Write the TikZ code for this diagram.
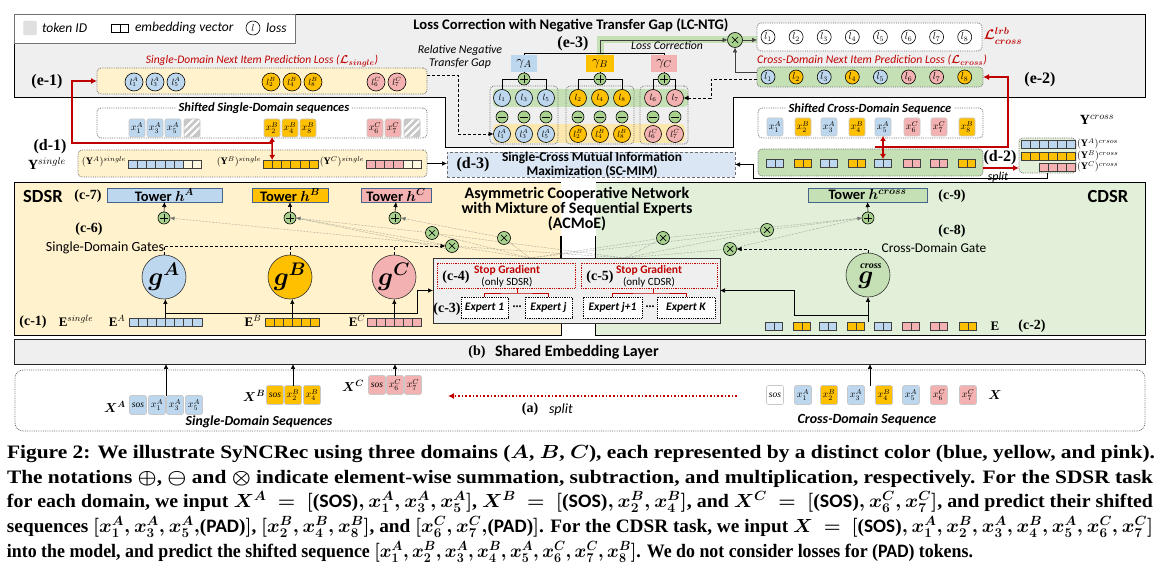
\RequirePackage{fix-cm}
\documentclass[tikz,border=0pt]{standalone}
\usepackage{amsmath,amssymb}
\usepackage{fontspec}
\setmainfont{Liberation Serif}
\setsansfont{Carlito}
\usepackage{graphicx}
\usetikzlibrary{arrows.meta,calc}
\definecolor{cA}{RGB}{189,215,238}
\definecolor{cB}{RGB}{255,192,0}
\definecolor{cC}{RGB}{244,177,177}
\definecolor{cG}{RGB}{197,224,180}
\definecolor{cGd}{RGB}{169,209,142}
\definecolor{cY}{RGB}{255,242,204}
\definecolor{cYb}{RGB}{252,232,172}
\definecolor{cYp}{RGB}{255,248,225}
\definecolor{cGl}{RGB}{226,240,217}
\definecolor{lcg}{RGB}{239,239,239}
\definecolor{dblue}{RGB}{218,230,243}
\definecolor{myred}{RGB}{192,0,0}
\definecolor{twb}{RGB}{68,100,140}
\definecolor{dotg}{RGB}{110,110,110}
\definecolor{tokb}{RGB}{200,200,200}
\newcommand{\fs}[1]{\fontsize{#1}{#1}\selectfont}
\newcommand{\capfont}{\rmfamily\bfseries}
\newcommand{\bm}[1]{{\boldmath #1}}
\newcommand{\embrow}[5]{\foreach \cc [count=\i from 0] in {#5} {\node[cell, fill=\cc, minimum width=#4pt, anchor=west] (#1\i) at ({#2+#4*\i},#3) {};}}
\newcommand{\embpair}[4]{\node[cell, fill=#4, minimum width=8.5pt, anchor=east] (#1l) at (#2,#3) {};\node[cell, fill=#4, minimum width=8.5pt, anchor=west] (#1r) at (#2,#3) {};}
\newcommand{\capline}[4]{\node[anchor=base west] (#1) at (7,#2) {\resizebox{#3pt}{\height}{{\capfont\fs{19}\boldmath #4}}};}
\tikzset{
 every node/.style={inner sep=0pt, outer sep=0pt},
 arr/.style={line width=0.6pt, -{Latex[length=5pt,width=4.5pt]}},
 sarr/.style={-{Latex[length=4.5pt,width=4pt]}},
 dsh/.style={densely dashed, line width=0.6pt, -{Latex[length=5pt,width=4.5pt]}},
 tang/.style={draw=black!55, densely dotted, line width=0.45pt},
 redarr/.style={myred, line width=1.6pt, -{Latex[length=6pt,width=6pt]}},
 reddbl/.style={myred, line width=1.6pt, {Latex[length=5pt,width=6pt]}-{Latex[length=5pt,width=6pt]}},
 dotbox/.style={draw=dotg, densely dotted, line width=0.8pt, rounded corners=4pt},
 cell/.style={draw=black!75, line width=0.5pt, minimum height=8pt},
 tok/.style={draw=tokb, line width=0.6pt, rounded corners=2pt, minimum width=16pt, minimum height=18pt, font=\fs{10}},
 tokA/.style={tok, fill=cA}, tokB/.style={tok, fill=cB}, tokC/.style={tok, fill=cC},
 hatch/.style={tok, fill=black!22, path picture={\foreach \s in {-7,0,7}{\draw[white, line width=2pt] ($(path picture bounding box.center)+(\s-10,10)$) -- ($(path picture bounding box.center)+(\s+10,-10)$);}}},
 lossS/.style={circle, draw=black, line width=0.6pt, minimum size=18pt, font=\fs{9}},
 lossX/.style={circle, draw=black, line width=0.6pt, minimum size=14pt, font=\fs{10}},
 opc/.style={circle, draw=black, line width=0.6pt, fill=cGd, minimum size=12pt},
 plusc/.style={opc, path picture={\draw[line width=0.7pt] ($(path picture bounding box.center)+(0,-3.6pt)$) -- ($(path picture bounding box.center)+(0,3.6pt)$) ($(path picture bounding box.center)+(-3.6pt,0)$) -- ($(path picture bounding box.center)+(3.6pt,0)$);}},
 minusc/.style={opc, path picture={\draw[line width=0.7pt] ($(path picture bounding box.center)+(-3.6pt,0)$) -- ($(path picture bounding box.center)+(3.6pt,0)$);}},
 timesc/.style={opc, minimum size=13pt, path picture={\draw[line width=0.7pt] ($(path picture bounding box.center)+(-3pt,-3pt)$) -- ($(path picture bounding box.center)+(3pt,3pt)$) ($(path picture bounding box.center)+(-3pt,3pt)$) -- ($(path picture bounding box.center)+(3pt,-3pt)$);}},
 lab/.style={font=\rmfamily\bfseries\fs{16}},
 clab/.style={font=\rmfamily\bfseries\fs{14}},
 tower/.style={draw=twb, line width=0.8pt, minimum height=14pt, font=\sffamily\bfseries\fs{14.5}},
 gate/.style={circle, draw=black!80, line width=0.6pt, minimum size=44pt, font=\fs{26}},
 capr/.style={text=myred, font=\sffamily\itshape\fs{11.7}},
 smit/.style={font=\sffamily\itshape\fs{11.7}},
 bit/.style={font=\sffamily\bfseries\itshape\fs{12.5}},
}
\begin{document}
\begin{tikzpicture}[x=1pt,y=-1pt]
\useasboundingbox (0,0) rectangle (1165,577);
\fill[white] (0,0) rectangle (1165,577);
%% ---------- backgrounds
\draw[fill=lcg, line width=0.8pt] (14,14) -- (1145,14) -- (1145,97) -- (733,97) -- (733,147) -- (445,147) -- (445,97) -- (14,97) -- cycle;
\node[draw=black, line width=0.8pt, fill=cY, minimum width=547pt, minimum height=153pt, anchor=north west] (sdsr) at (14,182) {};
\node[draw=black, line width=0.8pt, fill=cGl, minimum width=550pt, minimum height=153pt, anchor=north west] (cdsr) at (595,182) {};
\fill[white] (560.5,180) rectangle (595.5,236);
\node[draw=black!85, line width=0.8pt, fill=lcg, minimum width=1131pt, minimum height=25pt, anchor=north west] (shared) at (14,339) {};
\node[dotbox, rounded corners=8pt, minimum width=1130pt, minimum height=61pt, anchor=north west] (inbox) at (15,370) {};
%% ---------- legend
\node[draw=black!55, fill=white, line width=0.7pt, minimum width=281pt, minimum height=29pt, anchor=north west] (legend) at (14,14) {};
\node[draw=black!15, fill=black!12, rounded corners=2pt, minimum width=13pt, minimum height=14pt] (lgtok) at (30,28) {};
\node[anchor=west, font=\sffamily\itshape\fs{13.5}] (lgtokt) at (42,28) {token ID};
\node[cell, fill=white, draw=black, minimum width=8.5pt, anchor=east] (lgeml) at (120,28) {};
\node[cell, fill=white, draw=black, minimum width=8.5pt, anchor=west] (lgemr) at (120,28) {};
\node[anchor=west, font=\sffamily\itshape\fs{13.5}] (lgemt) at (135,28) {embedding vector};
\node[lossX, fill=white] (lgloss) at (253,28) {$l$};
\node[anchor=west, font=\sffamily\itshape\fs{13.5}] (lglosst) at (266,28) {loss};
%% ---------- LC-NTG
\node[font=\sffamily\bfseries\fs{14.6}] (lctitle) at (571,25) {Loss Correction with Negative Transfer Gap (LC-NTG)};
\node[lab] (e3) at (573,44) {(e-3)};
\node[align=center, font=\sffamily\itshape\fontsize{11.9}{12.5}\selectfont] (rntg) at (460,57) {Relative Negative\\Transfer Gap};
\draw[line width=7pt, cG] (600,55) -- (600,40) -- (757,40);
\node[fill=cA, minimum width=26pt, minimum height=17pt, font=\fs{14}] (gmA) at (524,63.5) {$\gamma_A$};
\node[fill=cB, minimum width=28pt, minimum height=17pt, font=\fs{14}] (gmB) at (600,63.5) {$\gamma_B$};
\node[fill=cC, minimum width=26pt, minimum height=17pt, font=\fs{14}] (gmC) at (664,63.5) {$\gamma_C$};
\draw[line width=0.7pt] (gmA.north) -- ++(0,-2) -| (gmC.north);
\node[smit] (lctxt) at (667,46) {Loss Correction};
\node[timesc, minimum size=15pt] (mx) at (735,40) {};
\draw[arr, black!75] ([yshift=2pt]gmB.north) |- (mx.west);
% lrb box
\node[dotbox, fill=white, minimum width=225pt, minimum height=28pt, anchor=north west] (lrb) at (757,23) {};
\foreach \i in {1,...,8} {\node[lossX, fill=white] (lr\i) at ({768+28.1*(\i-1)},37) {$l_{\i}$};}
\node[text=myred, font=\fs{14}] (lrblbl) at (1003,36) {\bm{$\mathcal{L}^{lrb}_{cross}$}};
\draw[arr, black!75] (mx.east) -- (mx -| lrb.west);
% cross losses
\node[capr] (clcap) at (872,60) {Cross-Domain Next Item Prediction Loss (\bm{$\mathcal{L}_{cross}$})};
\node[dotbox, fill=cG, minimum width=226pt, minimum height=20pt, anchor=north west] (clb) at (757,67) {};
\foreach \cc [count=\i] in {cA,cB,cA,cB,cA,cC,cC,cB} {\node[lossX, fill=\cc] (cl\i) at ({768+28.1*(\i-1)},77) {$l_{\i}$};}
\draw[arr, black!75] ([yshift=-5pt]clb.north west) -| (mx.south);
\node[lab] (e2) at (1040,80) {(e-2)};
% single losses
\node[capr, font=\sffamily\itshape\fs{11.5}] (slcap) at (262,61) {Single-Domain Next Item Prediction Loss (\bm{$\mathcal{L}_{single}$})};
\node[dotbox, fill=cY, minimum width=330pt, minimum height=26pt, anchor=north west] (slb) at (97,68) {};
\foreach \xx/\n in {134/1,155/3,176/5} {\node[lossS, fill=cA] (slA\n) at (\xx,82) {$l^A_{\n}$};}
\foreach \xx/\n in {271/2,292/4,313/8} {\node[lossS, fill=cB] (slB\n) at (\xx,82) {$l^B_{\n}$};}
\foreach \xx/\n in {376/6,397/7} {\node[lossS, fill=cC] (slC\n) at (\xx,82) {$l^C_{\n}$};}
\node[lab] (e1) at (47,82) {(e-1)};
% gap structure
\node[fill=cG, rounded corners=4pt, minimum width=195pt, minimum height=18pt, anchor=north west] (bandG) at (493,89) {};
\node[fill=cYb, rounded corners=4pt, minimum width=192pt, minimum height=19pt, anchor=north west] (bandY) at (493,124) {};
\node[dotbox, minimum width=68pt, minimum height=58pt, anchor=north west] (grA) at (490,86) {};
\node[dotbox, minimum width=68pt, minimum height=58pt, anchor=north west] (grB) at (566,86) {};
\node[dotbox, minimum width=48pt, minimum height=58pt, anchor=north west] (grC) at (640,86) {};
\foreach \xx/\n/\cc/\d in {502/1/cA/A,524/3/cA/A,546/5/cA/A,578/2/cB/B,600/4/cB/B,622/8/cB/B,653/6/cC/C,675/7/cC/C} {
  \node[lossS, minimum size=17pt, fill=\cc] (gt\d\n) at (\xx,98) {$l_{\n}$};
  \node[minusc] (gm\d\n) at (\xx,117) {};
  \node[lossS, minimum size=17pt, fill=\cc] (gb\d\n) at (\xx,134) {$l^{\d}_{\n}$};
}
\node[plusc] (pgA) at (524,79) {};
\node[plusc] (pgB) at (600,79) {};
\node[plusc] (pgC) at (664,79) {};
\draw[line width=0.7pt] (gtA1.north) |- (pgA.west) (pgA.east) -| (gtA5.north);
\draw[line width=0.7pt] (gtB2.north) |- (pgB.west) (pgB.east) -| (gtB8.north);
\draw[line width=0.7pt] (gtC6.north) |- (pgC.west) (pgC.east) -| (gtC7.north);
\draw[line width=0.7pt] (gmA.south) -- (pgA.north) (gmB.south) -- (pgB.north) (gmC.south) -- (pgC.north);
\draw[dsh] ([yshift=6pt]slb.east) -- ++(31,0) |- (gbA1.west);
\draw[dsh] ([yshift=-2pt]clb.west) -- ++(-46,0) |- (gtC7.east);
%% ---------- row d
\node[dotbox, fill=white, minimum width=330pt, minimum height=30pt, anchor=north west] (ssb) at (97,108) {};
\node[bit, fill=white, inner xsep=3pt, inner ysep=1pt] (ssbt) at (264,108) {Shifted Single-Domain sequences};
\foreach \xx/\n in {137/1,155/3,173/5} {\node[tokA] (sA\n) at (\xx,128) {$x^A_{\n}$};}
\node[hatch] (sPA) at (192,128) {};
\foreach \xx/\n in {272/2,290/4,308/8} {\node[tokB] (sB\n) at (\xx,128) {$x^B_{\n}$};}
\foreach \xx/\n in {375/6,393/7} {\node[tokC] (sC\n) at (\xx,128) {$x^C_{\n}$};}
\node[hatch] (sPC) at (412,128) {};
\node[lab] (d1) at (50,147) {(d-1)};
\node[font=\fs{14}] (ysl) at (47,164) {$\mathbf{Y}^{single}$};
\node[dotbox, fill=cY, minimum width=349pt, minimum height=27pt, anchor=north west] (ysb) at (78,150) {};
\node[font=\fs{10}] (yAs) at (104,162) {$(\mathbf{Y}^A)^{single}$};
\node[font=\fs{10}] (yBs) at (239,162) {$(\mathbf{Y}^B)^{single}$};
\node[font=\fs{10}] (yCs) at (342,162) {$(\mathbf{Y}^C)^{single}$};
\embrow{yA}{128}{164}{9.2}{cA,cA,cA,cA,cA,cA,cYp,cYp}
\embrow{yB}{263}{164}{9.2}{cB,cB,cB,cB,cB,cB}
\embrow{yC}{366}{164}{9.2}{cC,cC,cC,cC,cYp,cYp}
\draw[reddbl] (sB2.south) -- (yB0.north east);
\coordinate (rjL) at (273,143);
\draw[redarr] (rjL) -- (72,143) -- (72,81) -- (slb.west);
% d-3
\node[draw=dotg, densely dashed, line width=0.7pt, fill=dblue, minimum width=288pt, minimum height=25pt, anchor=north west] (d3) at (447,152) {};
\node[lab] (d3l) at (473,165) {(d-3)};
\node[font=\sffamily\bfseries\fontsize{13.4}{13.5}\selectfont, align=center] (d3t) at (592,165) {Single-Cross Mutual Information\\Maximization (SC-MIM)};
\draw[arr] (ysb.east) -- (ysb.east -| d3.west);
% cross shifted
\node[dotbox, fill=white, minimum width=225pt, minimum height=30pt, anchor=north west] (scb) at (758,108) {};
\node[bit, fill=white, inner xsep=3pt, inner ysep=1pt] (scbt) at (870,109) {Shifted Cross-Domain Sequence};
\foreach \xx/\cc/\lab [count=\i] in {775/cA/{x^A_1},803/cB/{x^B_2},829/cA/{x^A_3},857/cB/{x^B_4},883/cA/{x^A_5},912/cC/{x^C_6},939/cC/{x^C_7},967/cB/{x^B_8}} {\node[tok, fill=\cc] (sx\i) at (\xx,127) {$\lab$};}
\node[dotbox, fill=cG, minimum width=225pt, minimum height=27pt, anchor=north west] (gbar) at (758,149) {};
\foreach \xx/\cc [count=\i] in {775/cA,803/cB,829/cA,857/cB,883/cA,912/cC,939/cC,967/cB} {\embpair{gp\i}{\xx}{163}{\cc}}
\draw[reddbl] (sx5.south) -- (gp5l.north east);
\coordinate (rjR) at (875,147);
\draw[redarr] (rjR) -- (1008,147) -- (1008,77) -- (clb.east);
\node[lab] (d2) at (1000,158) {(d-2)};
\node[dotbox, fill=cGl, minimum width=57pt, minimum height=35pt, anchor=north west] (ycb) at (1019,138) {};
\draw[redarr, line width=1.4pt] ([yshift=-5.5pt]gbar.east) -- ([yshift=-5.5pt]gbar.east -| ycb.west);
\node[font=\sffamily\itshape\fs{12}] (splt) at (998,177) {split};
\embrow{ycA}{1021}{144}{9}{cA,cA,cA,cA,cA,cA}
\embrow{ycB}{1021}{156}{9}{cB,cB,cB,cB,cB,cB}
\embrow{ycC}{1039}{167}{9}{cC,cC,cC,cC}
\node[anchor=west, font=\fs{10}] (ycAl) at (1077,144) {$(\mathbf{Y}^A)^{crsos}$};
\node[anchor=west, font=\fs{10}] (ycBl) at (1077,156) {$(\mathbf{Y}^B)^{cross}$};
\node[anchor=west, font=\fs{10}] (ycCl) at (1077,167) {$(\mathbf{Y}^C)^{cross}$};
\node[font=\fs{14}] (ycl) at (1097,120) {$\mathbf{Y}^{cross}$};
\draw[arr] (ycb.south) -- ++(0,5) -| ($(d3.east)+(18,0)$) -- (d3.east);
%% ---------- SDSR
\node[font=\sffamily\bfseries\fs{18.5}] (sdsrl) at (43,196) {SDSR};
\node[clab] (c7) at (88,196) {(c-7)};
\node[tower, fill=cA, minimum width=115pt] (twA) at (164.5,195) {Tower \bm{$h^A$}};
\node[tower, fill=cB, minimum width=76pt] (twB) at (290,195) {Tower \bm{$h^B$}};
\node[tower, fill=cC, minimum width=70pt] (twC) at (396,195) {Tower \bm{$h^C$}};
\node[clab] (c6) at (89,229) {(c-6)};
\node[font=\sffamily\fs{14}] (sdg) at (105,248) {Single-Domain Gates};
\node[gate, fill=cA] (gtA) at (164,277) {\bm{$g^{A}$}};
\node[gate, fill=cB] (gtB) at (290,277) {\bm{$g^{B}$}};
\node[gate, fill=cC] (gtC) at (394,277) {\bm{$g^{C}$}};
\node[clab] (c1) at (33,322) {(c-1)};
\node[font=\fs{13}] (esl) at (76,321) {$\mathbf{E}^{single}$};
\node[font=\fs{13}] (eAl) at (117,321) {$\mathbf{E}^{A}$};
\node[font=\fs{13}] (eBl) at (253,321) {$\mathbf{E}^{B}$};
\node[font=\fs{13}] (eCl) at (357,321) {$\mathbf{E}^{C}$};
\embrow{eA}{129}{322}{9.1}{cA,cA,cA,cA,cA,cA,cA,cA}
\embrow{eB}{265}{322}{9.1}{cB,cB,cB,cB,cB,cB}
\embrow{eC}{367}{322}{9.1}{cC,cC,cC,cC,cC,cC}
%% ---------- CDSR
\node[font=\sffamily\bfseries\fs{18.5}] (cdsrl) at (1108,196) {CDSR};
\node[tower, fill=cG, minimum width=119pt] (twX) at (867.5,195) {Tower \bm{$h^{cross}$}};
\node[clab] (c9) at (952,196) {(c-9)};
\node[clab] (c8) at (952,231) {(c-8)};
\node[font=\sffamily\fs{13.4}] (cdg) at (934,248) {Cross-Domain Gate};
\node[gate, fill=cG] (gtX) at (868,275) {};
\node[font=\rmfamily\bfseries\itshape\fs{10}] (gtXs) at (871,266) {cross};
\node[font=\fs{26}] (gtXg) at (866,280) {\bm{$g$}};
\foreach \xx/\cc [count=\i] in {774/cA,802/cB,828/cA,856/cB,883/cA,911/cC,939/cC,968/cB} {\embpair{ex\i}{\xx}{326}{\cc}}
\node[font=\fs{13}] (exl) at (995,326) {$\mathbf{E}$};
\node[clab] (c2) at (1032,326) {(c-2)};
%% ---------- ACMoE title
\node[font=\sffamily\bfseries\fontsize{16}{15}\selectfont, align=center] (acm) at (577,209) {Asymmetric Cooperative Network\\with Mixture of Sequential Experts\\(ACMoE)};
\draw[line width=0.8pt] (560.5,236) -- (560.5,258) (595.5,236) -- (595.5,258);
%% ---------- mixing nodes and tangle
\coordinate (sL) at (530,258);
\coordinate (sR) at (625,258);
\coordinate (m1c) at (432,233);
\coordinate (m2c) at (452,246);
\coordinate (m3c) at (504,238);
\coordinate (m4c) at (663,238);
\coordinate (m5c) at (730,249);
\coordinate (m6c) at (767,230);
\foreach \t in {m1c,m2c,m3c,m4c,m6c} {\draw[tang] (sL) -- (\t);}
\foreach \t in {m4c,m5c,m6c,m1c,m2c} {\draw[tang] (sR) -- (\t);}
\node[plusc] (psA) at (164,218) {};
\node[plusc] (psB) at (290,218) {};
\node[plusc] (psC) at (395,218) {};
\node[plusc] (psX) at (868,218) {};
\draw[tang, sarr] (m2c) -- (psA.east);
\draw[tang, sarr] (m1c) -- (psB.east);
\draw[tang] (m2c) -- (psB.east);
\draw[tang] ($(m2c)+(0,4)$) -- (psB.east);
\draw[tang, sarr] (m3c) -- (psC.east);
\draw[tang, sarr] (m6c) -- (psX.west);
\draw[tang] (m4c) -- (psX.west);
\draw[tang] (m5c) -- (psX.west);
\node[timesc] (m1) at (m1c) {};
\node[timesc] (m2) at (m2c) {};
\node[timesc] (m3) at (m3c) {};
\node[timesc] (m4) at (m4c) {};
\node[timesc] (m5) at (m5c) {};
\node[timesc] (m6) at (m6c) {};
\draw[arr] (psA.north) -- (twA.south);
\draw[arr] (psB.north) -- (twB.south);
\draw[arr] (psC.north) -- (twC.south);
\draw[arr] (psX.north) -- (twX.south);
\draw[dsh] (gtA.north) -- ++(0,-9) -- (m2.west);
\draw[densely dashed, line width=0.6pt] (gtB.north) -- ++(0,-9);
\draw[densely dashed, line width=0.6pt] (gtC.north) -- ++(0,-9);
\draw[dsh] (gtX.north) -- ++(0,-4) -- (m5.east);
%% ---------- experts
\node[draw=black!80, line width=0.8pt, fill=lcg, minimum width=287pt, minimum height=65pt, anchor=north west] (exb) at (433,258) {};
\node[draw=myred, densely dotted, line width=0.8pt, minimum width=138pt, minimum height=25pt, anchor=north west] (sg1) at (437,263) {};
\node[draw=myred, densely dotted, line width=0.8pt, minimum width=136pt, minimum height=25pt, anchor=north west] (sg2) at (581,263) {};
\node[text=myred, font=\sffamily\bfseries\fs{11.5}] (sg1a) at (507,270) {Stop Gradient};
\node[font=\sffamily\fs{11}] (sg1b) at (507,282.5) {(only SDSR)};
\node[text=myred, font=\sffamily\bfseries\fs{11.5}] (sg2a) at (649,270) {Stop Gradient};
\node[font=\sffamily\fs{11}] (sg2b) at (649,282.5) {(only CDSR)};
\node[clab] (c4) at (456,277) {(c-4)};
\node[clab] (c5) at (600,277) {(c-5)};
\node[clab] (c3) at (447,309) {(c-3)};
\tikzset{expb/.style={draw=black, densely dotted, line width=0.8pt, fill=white, minimum height=21pt, anchor=north west, font=\sffamily\bfseries\itshape\fs{11.5}}}
\node[expb, minimum width=47pt] (ex1b) at (461,297) {Expert 1};
\node[expb, minimum width=47pt] (exjb) at (525,297) {Expert j};
\node[expb, minimum width=59pt] (exj1b) at (583,297) {Expert j+1};
\node[expb, minimum width=58pt] (exKb) at (657,297) {Expert K};
\node[font=\bfseries\fs{12}] (dots1) at (517,307) {...};
\node[font=\bfseries\fs{12}] (dots2) at (650,307) {...};
\coordinate (br1) at (517,293);
\coordinate (br2) at (653,293);
\draw[myred, line width=0.8pt] (ex1b.north) |- (br1) -| (exjb.north) (br1) -- (br1 |- sg1.south);
\draw[myred, line width=0.8pt] (exj1b.north) |- (br2) -| (exKb.north) (br2) -- (br2 |- sg2.south);
%% ---------- SDSR/CDSR connections
\draw[arr] (eA4.north west) -- (eA4.north west |- gtA.south);
\draw[arr] (eB3.north west) -- (eB3.north west |- gtB.south);
\draw[arr] (eC3.north west) -- (eC3.north west |- gtC.south);
\draw[arr] ([yshift=5pt]eA4.north west) -| ($(exb.west)+(-16,0)$) -- (exb.west);
\coordinate (xin) at (gtX.south |- ex4r.north);
\draw[arr] (xin) -- (gtX.south);
\draw[arr] ([yshift=7pt]xin) -| ($(exb.east)+(74,0)$) -- (exb.east);
%% ---------- shared embedding and inputs
\node[font=\rmfamily\bfseries\fs{14}] (bl) at (477,352) {(b)};
\node[anchor=west, font=\sffamily\bfseries\fs{16}] (sht) at (495,352) {Shared Embedding Layer};
\node[font=\fs{13}] (xAl) at (115,407) {\bm{$X^A$}};
\node[font=\fs{13}] (xBl) at (254,396) {\bm{$X^B$}};
\node[font=\fs{13}] (xCl) at (353,386) {\bm{$X^C$}};
\tikzset{itok/.style={tok, minimum width=17pt, minimum height=19pt}}
\node[itok, fill=cA, font=\itshape\fs{9.5}] (iAs) at (138,405) {sos};
\foreach \xx/\n in {157/1,175/3,194/5} {\node[itok, fill=cA] (iA\n) at (\xx,405) {$x^A_{\n}$};}
\node[itok, fill=cB, font=\itshape\fs{9.5}] (iBs) at (275,395) {sos};
\foreach \xx/\n in {293/2,312/4} {\node[itok, fill=cB] (iB\n) at (\xx,395) {$x^B_{\n}$};}
\node[itok, fill=cC, font=\itshape\fs{9.5}] (iCs) at (377,385) {sos};
\foreach \xx/\n in {395/6,413/7} {\node[itok, fill=cC] (iC\n) at (\xx,385) {$x^C_{\n}$};}
\coordinate (qa) at ($(iA1.north)!0.5!(iA3.north)$);
\draw[arr] (qa) -- (qa |- shared.south);
\draw[arr] (iB2.north) -- (iB2.north |- shared.south);
\draw[arr] (iC6.north) -- (iC6.north |- shared.south);
\node[font=\sffamily\bfseries\itshape\fs{13.8}] (sdsq) at (259,422) {Single-Domain Sequences};
\node[itok, fill=white, font=\itshape\fs{9.5}] (iXs) at (775,395) {sos};
\foreach \xx/\cc/\lab [count=\i] in {803/cA/{x^A_1},829/cB/{x^B_2},856/cA/{x^A_3},884/cB/{x^B_4},911/cA/{x^A_5},939/cC/{x^C_6},968/cC/{x^C_7}} {\node[itok, fill=\cc] (iX\i) at (\xx,395) {$\lab$};}
\node[font=\fs{13}] (xXl) at (995,395) {\bm{$X$}};
\coordinate (qx) at ($(iX3.north)!0.5!(iX4.north)$);
\draw[arr] (qx) -- (qx |- shared.south);
\node[font=\sffamily\bfseries\itshape\fs{14}] (cdsq) at (867,420) {Cross-Domain Sequence};
\coordinate (spR) at (737,396);
\coordinate (spL) at (448,396);
\draw[myred, dotted, line width=1.6pt, -{Latex[length=6pt,width=6pt]}] (spR) -- (spL);
\node[font=\rmfamily\bfseries\fs{14}] (al) at (530,409) {(a)};
\node[anchor=west, font=\sffamily\itshape\fs{14}] (alt) at (549,410) {split};
%% ---------- caption
\capline{cap1}{458}{1148}{Figure 2: We illustrate SyNCRec using three domains ($A$, $B$, $C$), each represented by a distinct color (blue, yellow, and pink).}
\capline{cap2}{483}{1146}{The notations $\oplus$, $\ominus$ and $\otimes$ indicate element-wise summation, subtraction, and multiplication, respectively. For the SDSR task}
\capline{cap3}{507}{1146}{for each domain, we input $X^A\ =\ [$(\textsf{SOS})$,x^A_1,x^A_3,x^A_5]$, $X^B\ =\ [$(\textsf{SOS})$,x^B_2,x^B_4]$, and $X^C\ =\ [$(\textsf{SOS})$,x^C_6,x^C_7]$, and predict their shifted}
\capline{cap4}{532}{1146}{sequences $[x^A_1,x^A_3,x^A_5,$(\textsf{PAD})$]$, $[x^B_2,x^B_4,x^B_8]$, and $[x^C_6,x^C_7,$(\textsf{PAD})$]$. For the CDSR task, we input $X\ =\ [$(\textsf{SOS})$,x^A_1,x^B_2,x^A_3,x^B_4,x^A_5,x^C_6,x^C_7]$}
\capline{cap5}{557}{966}{into the model, and predict the shifted sequence $[x^A_1,x^B_2,x^A_3,x^B_4,x^A_5,x^C_6,x^C_7,x^B_8]$. We do not consider losses for (\textsf{PAD}) tokens.}
\end{tikzpicture}
\end{document}
